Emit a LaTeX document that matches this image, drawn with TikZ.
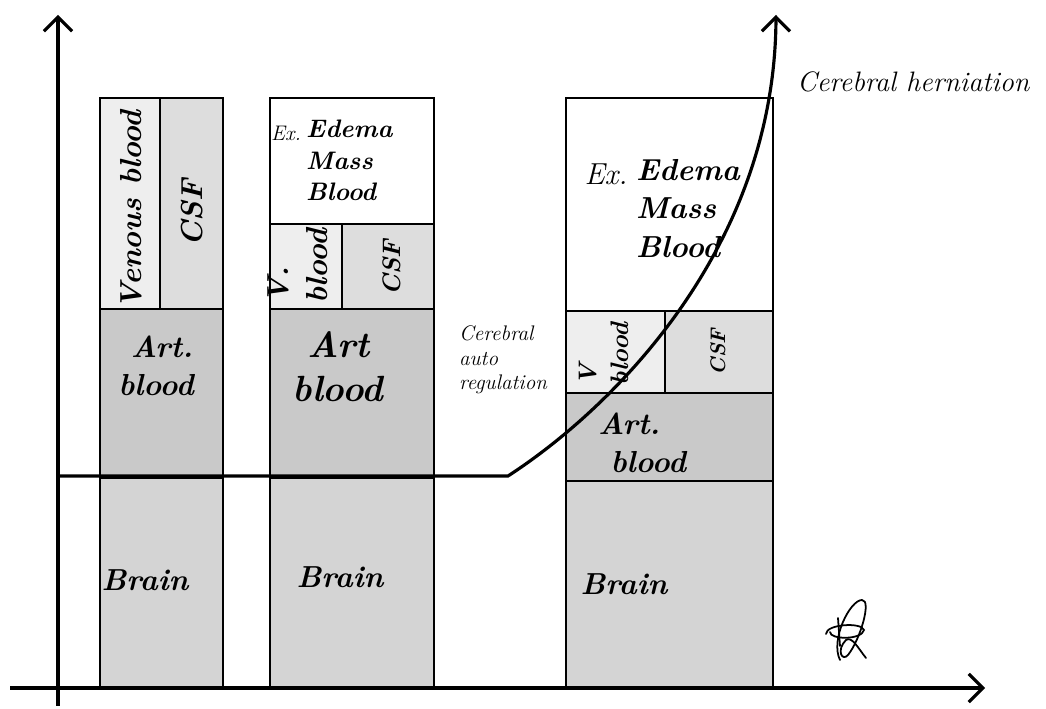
\documentclass[tikz,border=0pt]{standalone}
\usepackage{tikz}
\usetikzlibrary{arrows.meta}

\tikzset{
  cell/.style={draw=black, line width=1.6pt},
  venous/.style={cell, fill=gray!13},
  csf/.style={cell, fill=gray!27},
  artblood/.style={cell, fill=gray!42},
  brain/.style={cell, fill=gray!34},
  mass/.style={cell, fill=white},
  txt/.style={font=\LARGE\bfseries\itshape, align=left, inner sep=1pt},
  sidetxt/.style={txt, rotate=90},
  axis/.style={line width=1.8pt, -{Straight Barb[length=8pt, width=16pt]}}
}

\begin{document}
\begin{tikzpicture}[x=0.02cm, y=-0.02cm]
    \useasboundingbox (0,0) rectangle (1046,709);

    % normal
    \draw[venous]   (100,98)  rectangle (160,309);
    \draw[csf]      (160,98)  rectangle (223,309);
    \draw[artblood] (100,309) rectangle (223,478);
    \draw[brain]    (100,478) rectangle (223,688);
    % compensated
    \draw[mass]     (270,98)  rectangle (434,224);
    \draw[venous]   (270,224) rectangle (342,309);
    \draw[csf]      (342,224) rectangle (434,309);
    \draw[artblood] (270,309) rectangle (434,478);
    \draw[brain]    (270,478) rectangle (434,688);
    % decompensated
    \draw[mass]     (566,98)  rectangle (773,311);
    \draw[venous]   (566,311) rectangle (665,393);
    \draw[csf]      (665,311) rectangle (773,393);
    \draw[artblood] (566,393) rectangle (773,481);
    \draw[brain]    (566,481) rectangle (773,688);

    % labels
    \node[sidetxt] (vb1) at (131,210) {Venous blood};
    \node[sidetxt] (csf1) at (192,213) {CSF};
    \node[txt] (art1) at (156,366) {\ Art.\\blood};
    \node[txt] (br1) at (145,580) {Brain};

    \node[txt, font=\large\itshape] (ex2) at (286,133) {Ex.};
    \node[txt, font=\Large\bfseries\itshape, anchor=north west] (mass2) at (304,118) {Edema\\Mass\\Blood};
    \node[sidetxt] (vb2) at (298,266) {V.\\blood};
    \node[sidetxt, font=\Large\bfseries\itshape] (csf2) at (392,268) {CSF};
    \node[txt, font=\huge\bfseries\itshape] (art2) at (338,367) {\ Art\\blood};
    \node[txt] (br2) at (340,577) {Brain};

    \node[txt, font=\LARGE\itshape] (ex3) at (606,174) {Ex.};
    \node[txt, font=\LARGE\bfseries\itshape, anchor=north west] (mass3) at (634,157) {Edema\\Mass\\Blood};
    \node[sidetxt, font=\Large\bfseries\itshape] (vb3) at (604,354) {V\\blood};
    \node[sidetxt, font=\large\bfseries\itshape] (csf3) at (718,352) {CSF};
    \node[txt] (art3) at (642,443) {Art.\\\ blood};
    \node[txt] (br3) at (624,584) {Brain};

    \node[txt, font=\large\itshape] (autoreg) at (503,360) {Cerebral\\auto\\regulation};
    \node[txt, font=\fontsize{16}{19}\itshape\selectfont, anchor=west] (hern) at (795,82) {Cerebral herniation};

    % axes
    \coordinate (ybot) at (58,706);
    \coordinate (ytop) at (58,15);
    \coordinate (xleft) at (10,688);
    \coordinate (xright) at (985,688);
    \draw[axis] (ybot) -- (ytop);
    \draw[axis] (xleft) -- (xright);

    % pressure curve
    \coordinate (plateau) at (58,476);
    \coordinate (knee) at (508,476);
    \coordinate (peak) at (776,15);
    \draw[axis] (plateau) -- (knee) .. controls (610,410) and (775,250) .. (peak);

    % signature
    \draw[line width=1pt, line cap=round]
      (840,660) .. controls (830,640) and (850,600) .. (862,600)
      .. controls (872,600) and (860,640) .. (848,655)
      .. controls (842,662) and (836,650) .. (846,640)
      .. controls (852,636) and (858,648) .. (866,658);
    \draw[line width=1pt, line cap=round]
      (826,634) .. controls (826,624) and (862,622) .. (864,630)
      .. controls (862,640) and (830,640) .. (830,632);
    \draw[line width=1pt, line cap=round] (838,618) -- (840,646);
\end{tikzpicture}
\end{document}
